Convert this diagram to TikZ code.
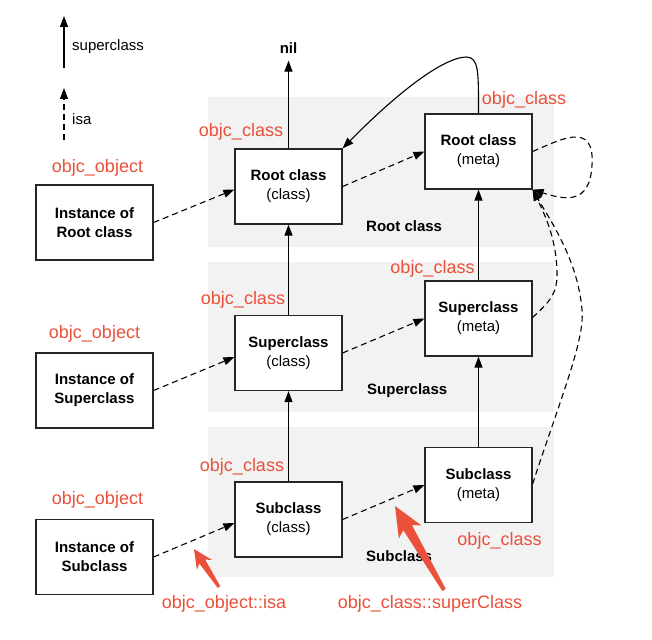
\documentclass[tikz,border=0pt]{standalone}
\usepackage{fontspec}
\setmainfont{Liberation Sans}
\usetikzlibrary{arrows.meta,calc}
\definecolor{objred}{RGB}{234,80,58}
\definecolor{bandgray}{RGB}{242,242,242}
\begin{document}
\begin{tikzpicture}[x=1pt,y=-1pt,
  box/.style={draw=black!85,line width=1.2pt,fill=white,minimum width=107pt,minimum height=75pt,inner sep=0pt,align=center,font=\fontsize{15}{19}\selectfont},
  ibox/.style={box,minimum width=117pt},
  lbl/.style={text=objred,font=\fontsize{18}{20}\selectfont,inner sep=0pt},
  blbl/.style={font=\bfseries\fontsize{15}{18}\selectfont,inner sep=0pt},
  txt/.style={font=\fontsize{15}{18}\selectfont,inner sep=0pt},
  suparrow/.style={line width=1.1pt,-{Triangle[length=11pt,width=8pt]}},
  isaarrow/.style={suparrow,dash pattern=on 6pt off 4pt},
]
\useasboundingbox (0,0) rectangle (652,639);
\fill[white] (0,0) rectangle (652,639);
% bands
\fill[bandgray] (208,97) rectangle (554,247);
\fill[bandgray] (208,262) rectangle (554,412);
\fill[bandgray] (208,427) rectangle (554,577);
% legend
\coordinate (lsA) at (64,68); \coordinate (lsB) at (64,16);
\draw[suparrow] (lsA) -- (lsB);
\node[txt,anchor=west] (lst) at (72,47) {superclass};
\coordinate (liA) at (64,140); \coordinate (liB) at (64,88);
\draw[isaarrow] (liA) -- (liB);
\node[txt,anchor=west] (lit) at (72,119) {isa};
% band labels
\node[blbl,anchor=west] (bl1) at (366,226) {Root class};
\node[blbl,anchor=west] (bl2) at (367,391) {Superclass};
\node[blbl,anchor=west] (bl3) at (366,556) {Subclass};
% boxes
\node[ibox] (inst1) at (94.5,222.5) {{\bfseries Instance of}\\{\bfseries Root class}};
\node[ibox] (inst2) at (94.5,390.5) {{\bfseries Instance of}\\{\bfseries Superclass}};
\node[ibox] (inst3) at (94.5,557) {{\bfseries Instance of}\\{\bfseries Subclass}};
\node[box] (cls1) at (288.5,186.5) {{\bfseries Root class}\\(class)};
\node[box] (cls2) at (288.5,353) {{\bfseries Superclass}\\(class)};
\node[box] (cls3) at (288.5,519.5) {{\bfseries Subclass}\\(class)};
\node[box] (meta1) at (478.5,151.5) {{\bfseries Root class}\\(meta)};
\node[box] (meta2) at (478.5,318.5) {{\bfseries Superclass}\\(meta)};
\node[box] (meta3) at (478.5,485) {{\bfseries Subclass}\\(meta)};
% nil
\node[blbl] (nil) at (288.5,48) {nil};
% red labels
\node[lbl] (o1) at (97.5,168) {objc\_object};
\node[lbl] (o2) at (94.5,334) {objc\_object};
\node[lbl] (o3) at (97.5,500) {objc\_object};
\node[lbl] (c1) at (241,132) {objc\_class};
\node[lbl] (c2) at (243,300) {objc\_class};
\node[lbl] (c3) at (242,467) {objc\_class};
\node[lbl] (m1) at (524,100) {objc\_class};
\node[lbl] (m2) at (432.5,269) {objc\_class};
\node[lbl] (m3) at (499.5,541) {objc\_class};
\node[lbl] (isalbl) at (224,604) {objc\_object::isa};
\node[lbl] (suplbl) at (430,604) {objc\_class::superClass};
% superclass arrows
\draw[suparrow,shorten >=7pt] (cls1.north) -- (nil.south);
\draw[suparrow] (cls2.north) -- (cls1.south);
\draw[suparrow] (cls3.north) -- (cls2.south);
\draw[suparrow] (meta2.north) -- (meta1.south);
\draw[suparrow] (meta3.north) -- (meta2.south);
\draw[suparrow] (meta1.north) .. controls (478.5,72) and (479,57) .. (466,57)
  .. controls (440,58) and (390,100) .. (cls1.north east);
% isa arrows
\draw[isaarrow] (inst1.east) -- ($(cls1.west)+(0,3)$);
\draw[isaarrow] (inst2.east) -- ($(cls2.west)+(0,4)$);
\draw[isaarrow] (inst3.east) -- ($(cls3.west)+(0,3.5)$);
\draw[isaarrow] (cls1.east) -- (meta1.west);
\draw[isaarrow] (cls2.east) -- (meta2.west);
\draw[isaarrow] (cls3.east) -- (meta3.west);
\draw[isaarrow] (meta1.east) .. controls (560,140) and (595,120) .. (592,165)
  .. controls (590,205) and (565,200) .. (meta1.south east);
\draw[isaarrow] ($(meta2.east)+(0,-1)$) .. controls (548,303) and (557,295) .. (557,275)
  .. controls (557,240) and (545,215) .. (meta1.south east);
\draw[isaarrow] ($(meta3.east)+(0,-1)$) .. controls (560,400) and (585,340) .. (582,310)
  .. controls (578,260) and (550,220) .. (meta1.south east);
% red pointer arrows
\coordinate (ta) at (395,506); \coordinate (tb) at (444,590);
\coordinate (ha) at ($(ta)!30pt!(tb)$);
\coordinate (ja) at ($(ta)!25pt!(tb)$);
\fill[objred] (ta) -- ($(ha)!13pt!90:(tb)$) -- ($(ja)!5pt!90:(tb)$) -- ($(tb)!2pt!-90:(ta)$)
  -- ($(tb)!2pt!90:(ta)$) -- ($(ja)!5pt!-90:(tb)$) -- ($(ha)!13pt!-90:(tb)$) -- cycle;
\coordinate (sa) at (194,549); \coordinate (sb) at (219,587);
\coordinate (hs) at ($(sa)!19pt!(sb)$);
\coordinate (js) at ($(sa)!15pt!(sb)$);
\fill[objred] (sa) -- ($(hs)!9pt!90:(sb)$) -- ($(js)!3.5pt!90:(sb)$) -- ($(sb)!1.5pt!-90:(sa)$)
  -- ($(sb)!1.5pt!90:(sa)$) -- ($(js)!3.5pt!-90:(sb)$) -- ($(hs)!9pt!-90:(sb)$) -- cycle;
\end{tikzpicture}
\end{document}
